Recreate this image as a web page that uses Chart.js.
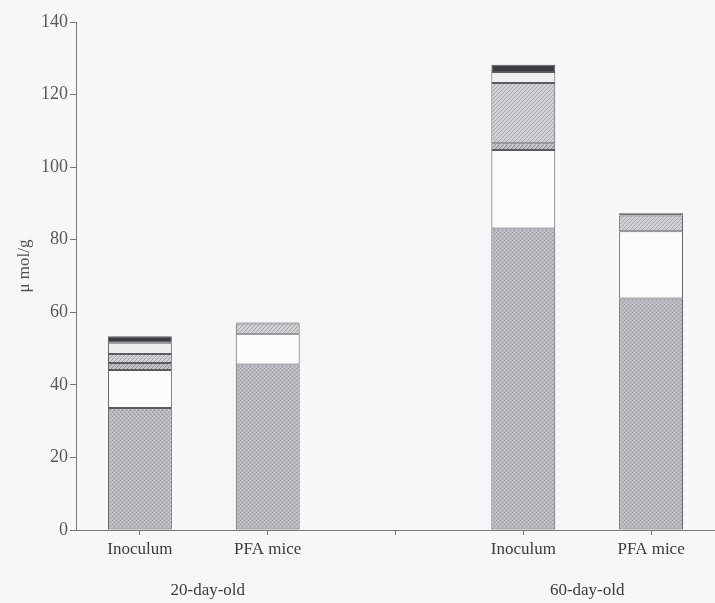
<!DOCTYPE html>
<html>
<head>
<meta charset="utf-8">
<script src="https://cdn.jsdelivr.net/npm/chart.js@4.4.1/dist/chart.umd.min.js"></script>
<style>
  html, body { margin: 0; padding: 0; background: #f7f6f8; }
  #wrap { width: 715px; height: 603px; }
</style>
</head>
<body>
<div id="wrap"><canvas id="chart" width="715" height="603"></canvas></div>
<script>
// Categories (third slot is an empty gap between the two age groups)
var categories = ['Inoculum', 'PFA mice', '', 'Inoculum', 'PFA mice'];
var groupLabels = ['20-day-old', '60-day-old'];
var yTicks = [0, 20, 40, 60, 80, 100, 120, 140];

// Stacked segments, bottom to top (µmol/g)
var graySeg      = [33.6, 45.6, null, 83.1, 63.8];
var whiteSeg     = [10.5, 8.5, null, 21.6, 18.5];
var smallHatched = [1.9, 0, null, 1.9, 0];
var lightHatched = [2.5, 2.8, null, 16.6, 4.4];
var paleSeg      = [3.1, 0, null, 3.0, 0];
var darkSeg      = [1.8, 0.3, null, 2.0, 0.6];

// little helper to build canvas fill patterns
function makePattern(size, draw) {
    var c = document.createElement('canvas');
    c.width = size; c.height = size;
    var g = c.getContext('2d');
    draw(g, size);
    return g.createPattern(c, 'repeat');
}

var dotted = makePattern(4, function (g) {
    g.fillStyle = '#bbb7be';
    g.fillRect(0, 0, 4, 4);
    g.fillStyle = '#9e9aa2';
    g.fillRect(0, 0, 1, 1);
    g.fillRect(2, 2, 1, 1);
    g.fillStyle = '#cac6cd';
    g.fillRect(2, 0, 1, 1);
    g.fillRect(0, 2, 1, 1);
});

function diag(base, line) {
    return makePattern(4, function (g, s) {
        g.fillStyle = base;
        g.fillRect(0, 0, s, s);
        g.fillStyle = line;
        for (var i = 0; i < s; i++) {
            g.fillRect(i, s - 1 - i, 1, 1);
        }
    });
}

var hatchDark = diag('#c4c1c7', '#8d8a91');
var hatchLight = diag('#d2d0d4', '#a8a5ab');

var border = '#5b5a5f';

function ds(label, data, fill) {
    return {
        label: label,
        data: data,
        backgroundColor: fill,
        borderColor: border,
        borderWidth: 1,
        borderSkipped: false,
        barPercentage: 0.5,
        categoryPercentage: 1.0
    };
}

// draws the y title and the age group labels under the categories
var extraText = {
    id: 'extraText',
    afterDraw: function (chart) {
        var ctx = chart.ctx;
        var x = chart.scales.x;
        ctx.save();
        ctx.fillStyle = '#3c3b40';
        ctx.font = '17px "Liberation Serif", "DejaVu Serif", serif';
        ctx.textAlign = 'center';
        ctx.textBaseline = 'middle';
        var g1 = (x.getPixelForValue(0) + x.getPixelForValue(1)) / 2 + 4;
        var g2 = (x.getPixelForValue(3) + x.getPixelForValue(4)) / 2;
        ctx.fillText(groupLabels[0], g1, 591);
        ctx.fillText(groupLabels[1], g2, 591);

        ctx.translate(25, 266);
        ctx.rotate(-Math.PI / 2);
        ctx.font = '17px "Liberation Serif", "DejaVu Serif", serif';
        ctx.fillStyle = '#55545a';
        ctx.fillText('\u03bc mol/g', 0, 0);
        ctx.restore();
    }
};

Chart.defaults.font.family = '"Liberation Serif", "DejaVu Serif", serif';

var ctx = document.getElementById('chart').getContext('2d');
new Chart(ctx, {
    type: 'bar',
    data: {
        labels: categories,
        datasets: [
            ds('gray', graySeg, dotted),
            ds('white', whiteSeg, '#fbfbfb'),
            ds('hatched', smallHatched, hatchDark),
            ds('light hatched', lightHatched, hatchLight),
            ds('pale', paleSeg, '#eeedf0'),
            ds('dark', darkSeg, '#3e3c42')
        ]
    },
    options: {
        responsive: false,
        animation: false,
        layout: { padding: { top: 22, right: 0, left: 0, bottom: 0 } },
        plugins: {
            legend: { display: false },
            tooltip: { enabled: false }
        },
        scales: {
            x: {
                stacked: true,
                grid: { display: true, offset: false, drawOnChartArea: false, drawTicks: true, tickLength: 5, color: '#77767b' },
                border: { display: true, color: '#77767b', width: 1 },
                ticks: { color: '#3c3b40', font: { size: 17 }, padding: 4, maxRotation: 0 },
                afterFit: function (scale) { scale.height = 73; }
            },
            y: {
                stacked: true,
                min: 0,
                max: 140,
                afterBuildTicks: function (scale) {
                    scale.ticks = yTicks.map(function (v) { return { value: v }; });
                },
                grid: { display: true, drawOnChartArea: false, drawTicks: true, tickLength: 6, color: '#77767b' },
                border: { display: true, color: '#77767b', width: 1 },
                ticks: { color: '#5a595e', font: { size: 18 }, padding: 2 },
                afterFit: function (scale) { scale.width = 76; }
            }
        }
    },
    plugins: [extraText]
});
</script>
</body>
</html>
